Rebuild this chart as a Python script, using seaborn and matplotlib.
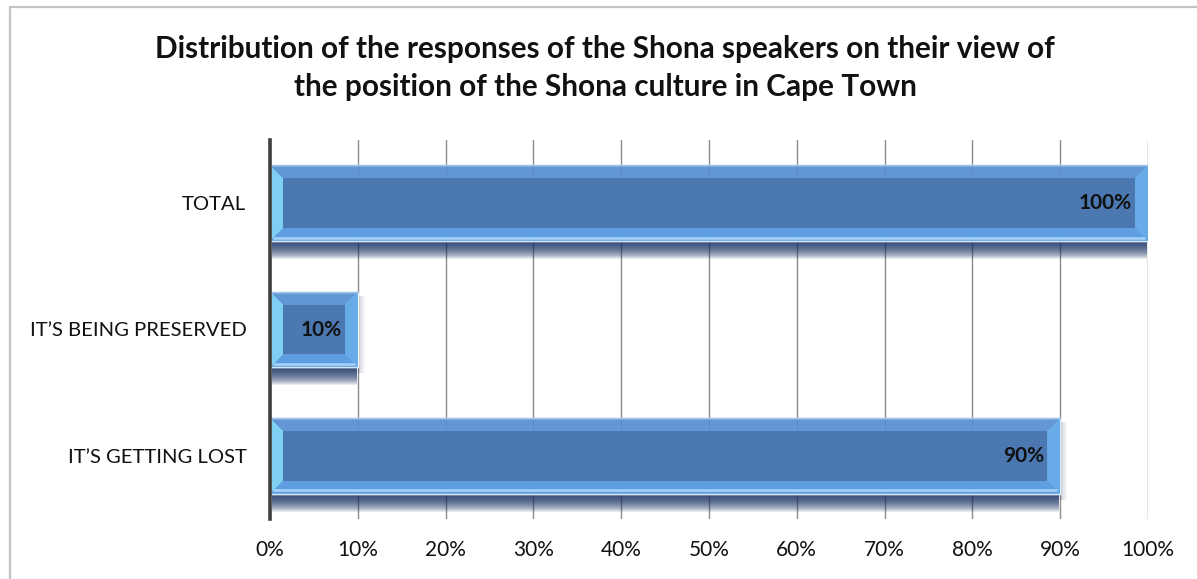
import numpy as np
import pandas as pd
import seaborn as sns
import matplotlib.pyplot as plt
from matplotlib.patches import Polygon, Rectangle
from matplotlib.lines import Line2D

# Survey responses (percent of Shona speakers)
categories = ["TOTAL", "IT\u2019S BEING PRESERVED", "IT\u2019S GETTING LOST"]
percentages = [100, 10, 90]
x_ticks = list(range(0, 101, 10))
x_tick_labels = [f"{t}%" for t in x_ticks]
title = ("Distribution of the responses of the Shona speakers on their view of\n"
         "the position of the Shona culture in Cape Town")

sns.set_theme(style="white")
plt.rcParams["font.family"] = ["Lato", "DejaVu Sans"]

df = pd.DataFrame({"category": categories, "percent": percentages})

fig = plt.figure(figsize=(11.97, 5.79), dpi=100)
W, H = 1197, 579
ax = fig.add_axes([270 / W, 1 - 519 / H, (1148 - 270) / W, (519 - 140) / H])

FRAME = "#5b90d2"
INNER = "#4a77b0"
BOTTOM = "#5e9fe2"
LEFT = "#80d3f3"
RIGHT = "#68aeea"
SHADOW = "#1c3466"

sns.barplot(data=df, x="percent", y="category", orient="h", color=FRAME,
            saturation=1, width=0.6, ax=ax, zorder=3)

ax.set_xlim(0, 100)
ax.set_ylim(2.5, -0.5)
ax.set_xticks(x_ticks)
ax.set_xticklabels(x_tick_labels)
ax.set_xlabel("")
ax.set_ylabel("")

# pixel -> data conversion for bevel widths
inv = ax.transData.inverted()
p0 = inv.transform((0, 0))
p1 = inv.transform((1, 1))
px_x = abs(p1[0] - p0[0])
px_y = abs(p1[1] - p0[1])
bev = 13
n_sh = 18

bars = list(ax.patches)
for bar, val in zip(bars, percentages):
    x0 = bar.get_x()
    x1 = x0 + bar.get_width()
    yt = bar.get_y()                 # visual top (axis inverted)
    yb = yt + bar.get_height()       # visual bottom
    dx = bev * px_x
    dy = bev * px_y
    bar.set_alpha(0.95)

    # drop shadow under the bar: stacked translucent strips, darkest at the edge
    for k in range(n_sh, 0, -1):
        ax.add_patch(Rectangle((x0 + 2 * px_x, yb), (x1 - x0) - 3 * px_x, k * px_y,
                               facecolor=SHADOW, edgecolor="none", alpha=0.10,
                               zorder=2.5))
    # faint shadow on the right side
    for k in range(7, 0, -1):
        ax.add_patch(Rectangle((x1, yt + 4 * px_y), k * px_x, (yb - yt) + 2 * px_y,
                               facecolor=SHADOW, edgecolor="none", alpha=0.03,
                               zorder=2.5))

    polys = [
        ([(x0, yb), (x1, yb), (x1 - dx, yb - dy), (x0 + dx, yb - dy)], BOTTOM),
        ([(x0, yt), (x0 + dx, yt + dy), (x0 + dx, yb - dy), (x0, yb)], LEFT),
        ([(x1, yt), (x1 - dx, yt + dy), (x1 - dx, yb - dy), (x1, yb)], RIGHT),
        ([(x0 + dx, yt + dy), (x1 - dx, yt + dy), (x1 - dx, yb - dy), (x0 + dx, yb - dy)], INNER),
    ]
    for pts, col in polys:
        ax.add_patch(Polygon(pts, closed=True, facecolor=col, edgecolor="none",
                             alpha=0.95, zorder=3.2))
    # light highlight stripe along the bottom bevel
    ax.plot([x0 + 3 * px_x, x1 - 3 * px_x], [yb - 3.5 * px_y] * 2, color="#a8d2f6",
            lw=1.8, zorder=3.3, solid_capstyle="butt")
    ax.plot([x0, x1], [yb, yb], color="#d2e6f8", lw=1.0, zorder=3.3)
    ax.plot([x0, x1], [yt, yt], color="#9cc1ea", lw=1.0, zorder=3.3)

    ax.text(x1 - 16 * px_x, (yt + yb) / 2, f"{val}%", ha="right", va="center",
            fontsize=15, fontweight="bold", color="#111111", zorder=4)

ax.set_xlim(0, 100)
ax.set_ylim(2.5, -0.5)

# gridlines and spines
ax.xaxis.grid(True, color="#8a8a8a", lw=1.0, zorder=0)
ax.set_axisbelow(True)
for s in ["top", "right", "bottom"]:
    ax.spines[s].set_visible(False)
ax.spines["left"].set_color("#3f3f3f")
ax.spines["left"].set_linewidth(2.6)
ax.spines["left"].set_zorder(5)

ax.tick_params(axis="x", length=0, pad=15, labelsize=15, labelcolor="#111111")
ax.tick_params(axis="y", length=0, pad=17, labelsize=14.6, labelcolor="#111111")

fig.text(605 / W, 1 - 68 / H, title, ha="center", va="center", fontsize=21.4,
         fontweight="bold", color="#111111", linespacing=1.45)

# chart area frame (left and top edges)
fig.add_artist(Line2D([10 / W, 10 / W], [0, 1 - 7 / H], transform=fig.transFigure,
                      color="#c3c3c3", lw=1.6))
fig.add_artist(Line2D([10 / W, 1], [1 - 7 / H, 1 - 7 / H], transform=fig.transFigure,
                      color="#c3c3c3", lw=1.6))

fig.savefig("out.png", dpi=100, facecolor="white")
